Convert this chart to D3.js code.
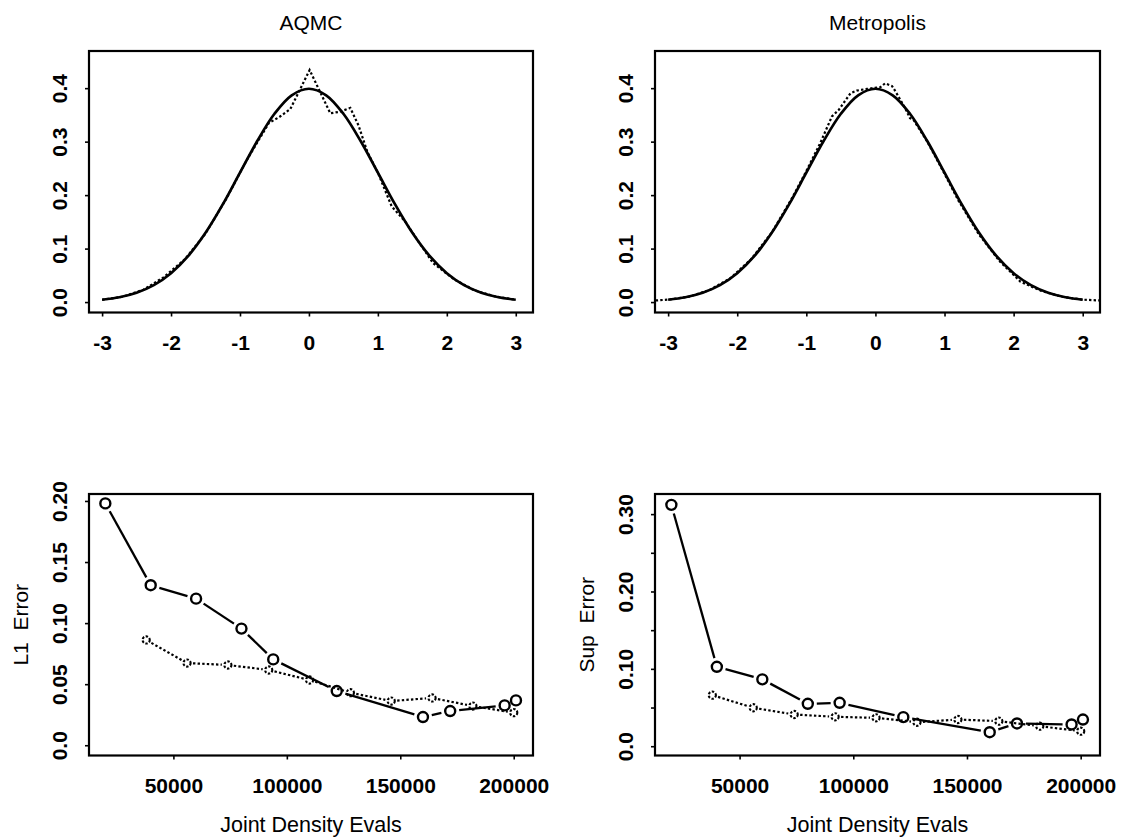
<!DOCTYPE html>
<html>
<head>
<meta charset="utf-8">
<script src="https://cdn.jsdelivr.net/npm/d3@7"></script>
<style>
  body { margin: 0; background: #fff; }
  svg { font-family: "Liberation Sans", Arial, sans-serif; }
  .tick text { font-weight: bold; font-size: 21px; fill: #000; }
  .tick line { stroke: #000; stroke-width: 1.6; }
</style>
</head>
<body>
<div class="figure"></div>
<script>
// N(0,1) density (solid curve in both top panels)
const normX = [-3, -2.75, -2.5, -2.25, -2, -1.75, -1.5, -1.25, -1, -0.75, -0.5, -0.25, 0,
               0.25, 0.5, 0.75, 1, 1.25, 1.5, 1.75, 2, 2.25, 2.5, 2.75, 3];
const normY = [0.0044, 0.0091, 0.0175, 0.0317, 0.0540, 0.0863, 0.1295, 0.1826, 0.2420, 0.3011, 0.3521, 0.3867, 0.3989,
               0.3867, 0.3521, 0.3011, 0.2420, 0.1826, 0.1295, 0.0863, 0.0540, 0.0317, 0.0175, 0.0091, 0.0044];

// AQMC estimate (dotted)
const aqmcX = [-3, -2.7, -2.4, -2.1, -1.8, -1.5, -1.2, -0.9, -0.58, -0.43, -0.27, -0.12, 0.01,
               0.31, 0.45, 0.6, 0.72, 0.85, 1.0, 1.2, 1.4, 1.6, 1.8, 2.1, 2.4, 2.7, 3.0];
const aqmcY = [0.0044, 0.0100, 0.0230, 0.0470, 0.0800, 0.1280, 0.1930, 0.2660, 0.3350, 0.3460, 0.3610, 0.4000, 0.4340,
               0.3530, 0.3560, 0.3630, 0.3300, 0.2800, 0.2420, 0.1790, 0.1500, 0.1110, 0.0730, 0.0430, 0.0220, 0.0105, 0.0044];

// Metropolis estimate (dotted)
const metroX = [-3.18, -3.0, -2.7, -2.4, -2.1, -1.8, -1.5, -1.2, -1.0, -0.8, -0.63, -0.53, -0.36, -0.27, -0.12,
                0.07, 0.14, 0.24, 0.29, 0.43, 0.5, 0.55, 0.75, 1.0, 1.2, 1.5, 1.8, 2.1, 2.4, 2.7, 3.0, 3.25];
const metroY = [0.0030, 0.0045, 0.0100, 0.0225, 0.0445, 0.0800, 0.1300, 0.1960, 0.2450, 0.2970, 0.3470, 0.3595, 0.3905, 0.3955, 0.3987,
                0.4017, 0.4090, 0.4040, 0.3940, 0.3625, 0.3440, 0.3410, 0.3000, 0.2400, 0.1900, 0.1260, 0.0760, 0.0380, 0.0210, 0.0100, 0.0045, 0.0030];

// error vs joint density evaluations
const evalsSolid  = [20000, 40000, 60000, 80000, 94000, 122000, 160000, 172000, 196000, 201000];
const evalsDotted = [38000, 56000, 74000, 92000, 110000, 128000, 146000, 164000, 182000, 200000];
const l1Solid   = [0.198, 0.131, 0.120, 0.0955, 0.0703, 0.0444, 0.0231, 0.0280, 0.0326, 0.0367];
const l1Dotted  = [0.0862, 0.0673, 0.0657, 0.0616, 0.0534, 0.0430, 0.0362, 0.0387, 0.0321, 0.0267];
const supSolid  = [0.312, 0.1027, 0.0864, 0.0548, 0.0561, 0.0376, 0.0181, 0.0294, 0.0281, 0.0345];
const supDotted = [0.0660, 0.0497, 0.0410, 0.0380, 0.0367, 0.0310, 0.0345, 0.0324, 0.0259, 0.0194];

// ticks
const densXTicks = [-3, -2, -1, 0, 1, 2, 3];
const densYTicks = [0, 0.1, 0.2, 0.3, 0.4];
const evalTicks  = [50000, 100000, 150000, 200000];
const l1Ticks    = [0, 0.05, 0.10, 0.15, 0.20];
const supTicks   = [0, 0.05, 0.10, 0.15, 0.20, 0.25, 0.30];
const supLabels  = ['0.0', '', '0.10', '', '0.20', '', '0.30'];

const width = 1121, height = 839;
const svg = d3.select('.figure').append('svg')
              .attr('width', width)
              .attr('height', height);

const cols = [[89, 533], [655, 1100]];
const rows = [[51, 312.5], [494, 755.5]];

function panel(col, row, xDomain, yDomain) {
    const x = d3.scaleLinear().domain(xDomain).range(cols[col]);
    const y = d3.scaleLinear().domain(yDomain).range([rows[row][1], rows[row][0]]);
    const g = svg.append('g');
    return {x, y, g};
}

function drawAxes(p, xTicks, xFmt, yTicks, yFmt) {
    const xAxis = d3.axisBottom(p.x).tickValues(xTicks).tickFormat(xFmt).tickSize(4);
    const yAxis = d3.axisLeft(p.y).tickValues(yTicks).tickFormat(yFmt).tickSize(4);
    const gx = p.g.append('g')
        .attr('transform', `translate(0, ${p.y.range()[0]})`)
        .call(xAxis);
    gx.select('.domain').remove();
    gx.selectAll('text')
      .attr('y', 30).attr('dy', null)
      .attr('dominant-baseline', 'central');

    const gy = p.g.append('g')
        .attr('transform', `translate(${p.x.range()[0]}, 0)`)
        .call(yAxis);
    gy.select('.domain').remove();
    gy.selectAll('text')
      .attr('x', null).attr('dy', null)
      .attr('text-anchor', 'middle')
      .attr('dominant-baseline', 'central')
      .attr('transform', 'translate(-30,0) rotate(-90)');

    p.g.append('rect')
       .attr('x', p.x.range()[0]).attr('y', p.y.range()[1])
       .attr('width', p.x.range()[1] - p.x.range()[0])
       .attr('height', p.y.range()[0] - p.y.range()[1])
       .attr('fill', 'none').attr('stroke', '#000').attr('stroke-width', 2.2);
}

function curve(p, xs, ys, dotted) {
    const line = d3.line()
        .x(d => p.x(d[0]))
        .y(d => p.y(d[1]))
        .curve(dotted ? d3.curveLinear : d3.curveCatmullRom);
    p.g.append('path')
       .datum(d3.zip(xs, ys))
       .attr('d', line)
       .attr('fill', 'none')
       .attr('stroke', '#000')
       .attr('stroke-width', dotted ? 2.2 : 2.7)
       .attr('stroke-dasharray', dotted ? '2.4,2.2' : null);
}

// points joined by lines that stop short of the symbols (type = "b")
function pointsLine(p, xs, ys, dotted) {
    const r = dotted ? 3.6 : 5;
    const gap = dotted ? 6 : 9;
    const pts = xs.map((v, i) => [p.x(v), p.y(ys[i])]);
    for (let i = 0; i < pts.length - 1; i++) {
        const [x0, y0] = pts[i], [x1, y1] = pts[i + 1];
        const len = Math.hypot(x1 - x0, y1 - y0);
        if (len <= 2 * gap) continue;
        const ux = (x1 - x0) / len, uy = (y1 - y0) / len;
        p.g.append('line')
           .attr('x1', x0 + ux * gap).attr('y1', y0 + uy * gap)
           .attr('x2', x1 - ux * gap).attr('y2', y1 - uy * gap)
           .attr('stroke', '#000')
           .attr('stroke-width', dotted ? 2.2 : 2.3)
           .attr('stroke-dasharray', dotted ? '2.4,2.2' : null);
    }
    p.g.selectAll(null)
       .data(pts)
       .enter()
       .append('circle')
       .attr('cx', d => d[0]).attr('cy', d => d[1])
       .attr('r', r)
       .attr('fill', 'none')
       .attr('stroke', '#000')
       .attr('stroke-width', dotted ? 2.1 : 2.4)
       .attr('stroke-dasharray', dotted ? '2.4,1.6' : null);
}

function title(p, txt) {
    svg.append('text')
       .attr('x', d3.mean(p.x.range())).attr('y', 22)
       .attr('text-anchor', 'middle').attr('dominant-baseline', 'central')
       .attr('font-size', 21)
       .text(txt);
}

function labels(p, xl, yl) {
    svg.append('text')
       .attr('x', d3.mean(p.x.range())).attr('y', p.y.range()[0] + 69)
       .attr('text-anchor', 'middle').attr('dominant-baseline', 'central')
       .attr('font-size', 21.5)
       .text(xl);
    svg.append('text')
       .attr('transform', `translate(${p.x.range()[0] - 69}, ${d3.mean(p.y.range())}) rotate(-90)`)
       .attr('text-anchor', 'middle').attr('dominant-baseline', 'central')
       .attr('font-size', 21)
       .style('white-space', 'pre')
       .text(yl);
}

const fmt1 = d3.format('.1f');
const intFmt = d => d3.format('d')(d);
const negFmt = d => d < 0 ? '-' + Math.abs(d) : String(d);

// AQMC density
const p1 = panel(0, 0, [-3.19, 3.25], [-0.0195, 0.4695]);
drawAxes(p1, densXTicks, negFmt, densYTicks, fmt1);
curve(p1, normX, normY, false);
curve(p1, aqmcX, aqmcY, true);
title(p1, 'AQMC');

// Metropolis density
const p2 = panel(1, 0, [-3.19, 3.25], [-0.0195, 0.4695]);
drawAxes(p2, densXTicks, negFmt, densYTicks, fmt1);
curve(p2, normX, normY, false);
curve(p2, metroX, metroY, true);
title(p2, 'Metropolis');

// L1 error
const p3 = panel(0, 1, [12800, 208500], [-0.0084, 0.2057]);
drawAxes(p3, evalTicks, intFmt, l1Ticks, d => d === 0 ? '0.0' : d3.format('.2f')(d));
pointsLine(p3, evalsSolid, l1Solid, false);
pointsLine(p3, evalsDotted, l1Dotted, true);
labels(p3, 'Joint Density Evals', 'L1  Error');

// Sup error
const p4 = panel(1, 1, [12800, 208500], [-0.012, 0.326]);
drawAxes(p4, evalTicks, intFmt, supTicks, (d, i) => supLabels[i]);
pointsLine(p4, evalsSolid, supSolid, false);
pointsLine(p4, evalsDotted, supDotted, true);
labels(p4, 'Joint Density Evals', 'Sup  Error');
</script>
</body>
</html>
